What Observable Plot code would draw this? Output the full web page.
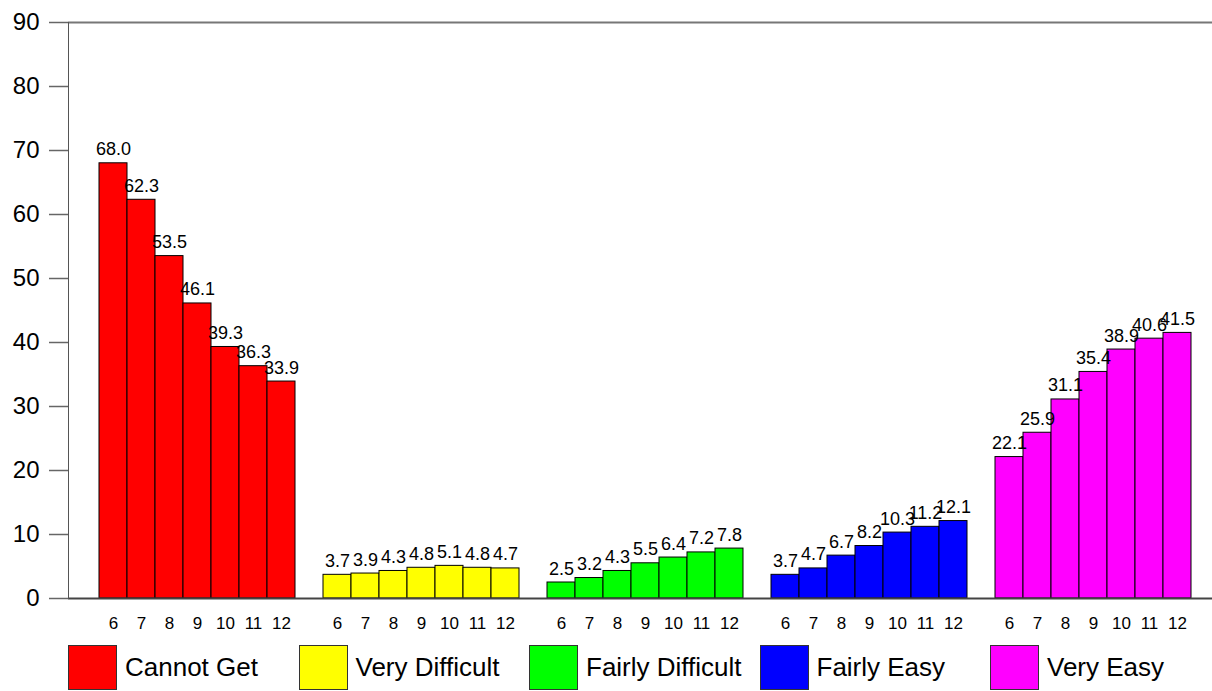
<!DOCTYPE html>
<html>
<head>
<meta charset="utf-8">
<script src="https://cdn.jsdelivr.net/npm/d3@7"></script>
<script src="https://cdn.jsdelivr.net/npm/@observablehq/plot@0.6"></script>
<style>
  html, body { margin: 0; padding: 0; background: #fff; overflow: hidden; width: 1212px; height: 691px; }
  #chart { position: relative; width: 1240px; }
  #chart svg { max-width: none !important; width: 1240px; height: 640px; display: block; }
  #legend { position: absolute; left: 68px; top: 645px; display: flex; font-family: "Liberation Sans", Arial, sans-serif; font-size: 26px; }
  .item { display: flex; align-items: center; width: 230.5px; }
  .sw { width: 49px; height: 45px; border: 1px solid #333; box-sizing: border-box; margin-right: 8px; }
</style>
</head>
<body>
<div id="chart"></div>
<div id="legend"></div>
<script>
const categories = ["Cannot Get", "Very Difficult", "Fairly Difficult", "Fairly Easy", "Very Easy"];
const colors = ["#ff0000", "#ffff00", "#00ff00", "#0000ff", "#ff00ff"];
const grades = ["6", "7", "8", "9", "10", "11", "12"];
const cannotGet = [68.0, 62.3, 53.5, 46.1, 39.3, 36.3, 33.9];
const veryDifficult = [3.7, 3.9, 4.3, 4.8, 5.1, 4.8, 4.7];
const fairlyDifficult = [2.5, 3.2, 4.3, 5.5, 6.4, 7.2, 7.8];
const fairlyEasy = [3.7, 4.7, 6.7, 8.2, 10.3, 11.2, 12.1];
const veryEasy = [22.1, 25.9, 31.1, 35.4, 38.9, 40.6, 41.5];
const yTicks = [0, 10, 20, 30, 40, 50, 60, 70, 80, 90];

const series = [cannotGet, veryDifficult, fairlyDifficult, fairlyEasy, veryEasy];
const data = [];
const domain = [];
categories.forEach((c, i) => {
  domain.push("gap" + i);
  grades.forEach((g, j) => {
    const key = c + "|" + g;
    domain.push(key);
    data.push({key, category: c, grade: g, value: series[i][j]});
  });
});
domain.push("gap" + categories.length);

const font = '"Liberation Sans", Arial, sans-serif';
const chart = Plot.plot({
  width: 1240,
  height: 640,
  marginLeft: 68,
  marginRight: 19,
  marginTop: 22,
  marginBottom: 42,
  style: {fontFamily: font, background: "#fff", overflow: "visible"},
  x: {domain, padding: 0, axis: null},
  y: {domain: [0, 90], axis: null},
  color: {domain: categories, range: colors},
  marks: [
    Plot.barY(data, {x: "key", y: "value", fill: "category", stroke: "#000", strokeWidth: 1}),
    Plot.ruleY([90], {stroke: "#777", strokeWidth: 2}),
    Plot.ruleY([0], {stroke: "#444", strokeWidth: 2}),
    Plot.frame({anchor: "left", stroke: "#555", strokeWidth: 1}),
    Plot.axisY({ticks: yTicks, tickSize: 19, tickPadding: 10, fontSize: 24, stroke: "#666", strokeWidth: 1.5, label: null, fill: "#000"}),
    Plot.axisX({tickSize: 0, tickPadding: 18, fontSize: 17, label: null, fill: "#000",
      tickFormat: (k) => k.startsWith("gap") ? "" : k.split("|")[1]}),
    Plot.text(data, {x: "key", y: "value", text: (d) => d3.format(".1f")(d.value), lineAnchor: "bottom", dy: -8, fontSize: 18, fill: "#000"})
  ]
});
document.getElementById("chart").appendChild(chart);

const legend = document.getElementById("legend");
categories.forEach((c, i) => {
  const item = document.createElement("div");
  item.className = "item";
  const sw = document.createElement("div");
  sw.className = "sw";
  sw.style.background = colors[i];
  const t = document.createElement("span");
  t.textContent = c;
  item.appendChild(sw);
  item.appendChild(t);
  legend.appendChild(item);
});
</script>
</body>
</html>
